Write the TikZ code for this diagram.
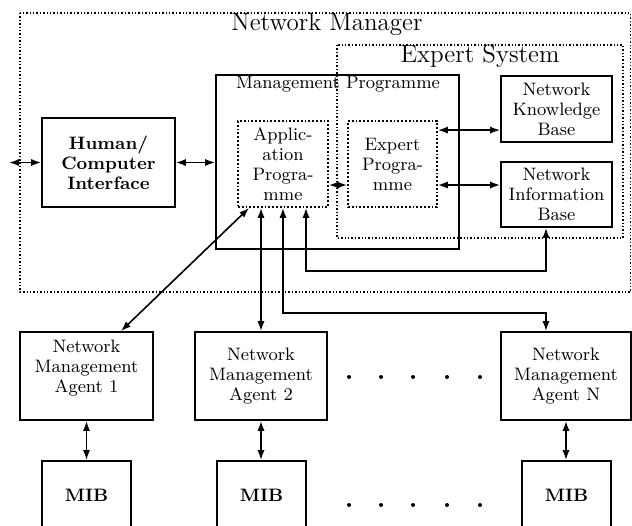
\documentclass[tikz,border=0pt]{standalone}
\usetikzlibrary{arrows.meta,calc}
\tikzset{
  box/.style={draw,line width=0.9pt,align=center,inner sep=0pt,font=\fontsize{9}{10}\selectfont},
  dotbox/.style={box,densely dotted},
  title/.style={inner sep=0pt,font=\fontsize{12.5}{14}\selectfont},
  link/.style={line width=0.8pt,{Latex[length=5pt,width=3.6pt]}-{Latex[length=5pt,width=3.6pt]}},
}
\begin{document}
\begin{tikzpicture}[x=0.5pt,y=-0.5pt]
\clip (0,0) rectangle (632,525);

\draw[densely dotted,line width=0.7pt] (20,13) rectangle (630.5,292);
\node[title] (nmtitle) at (327,24) {Network Manager};
\draw[densely dotted,line width=0.7pt] (337,45) rectangle (623,238);
\node[title] (estitle) at (480,56) {Expert System};

\node[box,minimum width=66.5pt,minimum height=44.5pt,font=\fontsize{9}{10}\selectfont\bfseries] (hci) at (108.5,162.5) {Human/\\Computer\\Interface};
\node[box,minimum width=121.5pt,minimum height=87pt] (mgmt) at (337.5,162) {};
\node[inner sep=0pt,font=\fontsize{9}{10}\selectfont] (mptitle) at (338,84) {Management Programme};
\node[dotbox,minimum width=45pt,minimum height=43pt] (app) at (283,164) {Applic-\\ation\\Progra-\\mme};
\node[dotbox,minimum width=44.5pt,minimum height=43pt] (expert) at (392.5,164) {Expert\\Progra-\\mme};
\node[box,minimum width=55.5pt,minimum height=33pt] (nkb) at (556.5,109) {Network\\Knowledge\\Base};
\node[box,minimum width=55.5pt,minimum height=32.5pt] (nib) at (556.5,194.5) {Network\\Information\\Base};

\node[box,minimum width=66.5pt,minimum height=44pt] (agent1) at (86.5,376) {Network\\Management\\Agent 1\\\mbox{}};
\node[box,minimum width=66pt,minimum height=44pt] (agent2) at (261,376) {Network\\Management\\Agent 2};
\node[box,minimum width=65pt,minimum height=44pt] (agentN) at (566,376) {Network\\Management\\Agent N};
\node[box,minimum width=44.5pt,minimum height=34.5pt,font=\fontsize{9}{10}\selectfont\bfseries] (mib1) at (86.5,495.5) {MIB};
\node[box,minimum width=44.5pt,minimum height=34.5pt,font=\fontsize{9}{10}\selectfont\bfseries] (mib2) at (261.5,495.5) {MIB};
\node[box,minimum width=44.5pt,minimum height=34.5pt,font=\fontsize{9}{10}\selectfont\bfseries] (mibN) at (566.5,495.5) {MIB};

\coordinate (ext) at ($(hci.west)+(-32,0)$);
\draw[link] (ext) -- (hci.west);
\draw[link] (hci.east) -- (hci.east -| mgmt.west);
\draw[link] ($(app.east)+(0,21)$) -- ($(expert.west)+(0,21)$);
\coordinate (ek) at ($(expert.north east)+(0,10)$);
\draw[link] (ek) -- (ek -| nkb.west);
\coordinate (ei) at ($(expert.east)+(0,21)$);
\draw[link] (ei) -- (ei -| nib.west);

\coordinate (a1) at ($(app.south west)+(12,0)$);
\coordinate (t1) at ($(agent1.north)+(34.5,0)$);
\draw[link] (a1) -- (t1);
\draw[link] (app.south -| agent2.north) -- (agent2.north);
\coordinate (tn) at ($(agentN.north)+(-20,0)$);
\draw[link] (app.south) -- ++(0,105) -| (tn);
\coordinate (tb) at ($(nib.south)+(-10.5,0)$);
\draw[link] ($(app.south)+(23,0)$) -- ++(0,63) -| (tb);

\foreach \i in {1,2,N}
  \draw[link] (agent\i.south) -- (agent\i.south |- mib\i.north);
\foreach \x in {349,381,413,447,480} {
  \fill (\x,377) circle (1pt);
  \fill (\x,505) circle (1pt);
}
\end{tikzpicture}
\end{document}
